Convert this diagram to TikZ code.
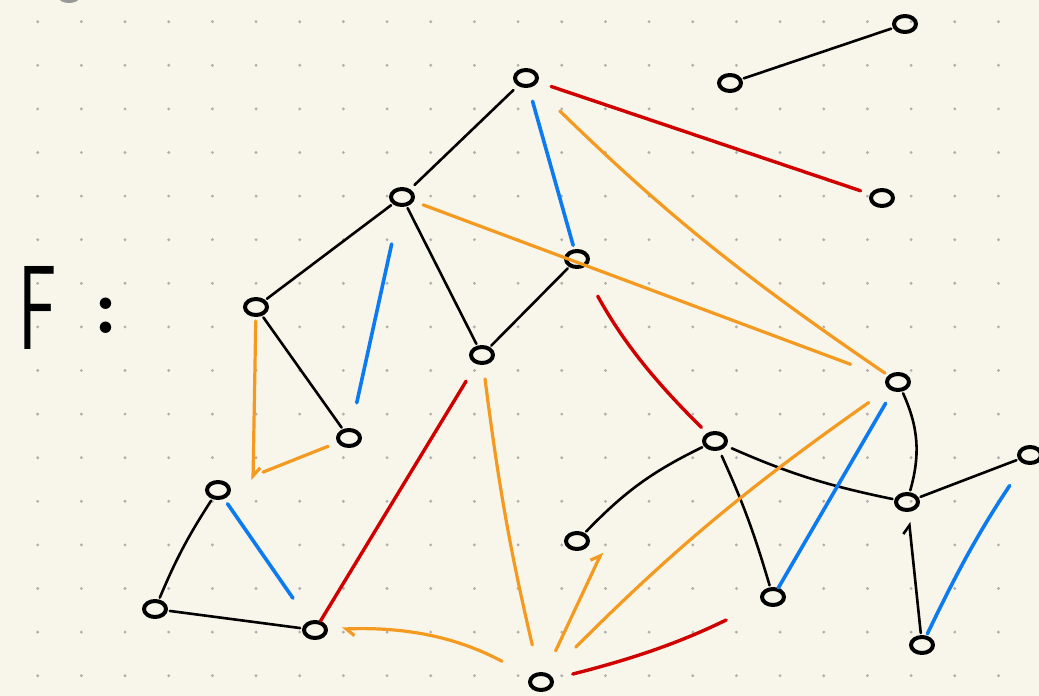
\documentclass[tikz,border=0pt]{standalone}
\usetikzlibrary{shapes.geometric, arrows.meta}
\definecolor{paper}{RGB}{248,246,234}
\definecolor{dotgray}{RGB}{175,175,175}
\definecolor{penblue}{RGB}{12,122,240}
\definecolor{penorange}{RGB}{244,154,32}
\definecolor{penred}{RGB}{208,0,0}
\begin{document}
\begin{tikzpicture}[x=0.5pt, y=-0.5pt, line cap=round, line join=round,
  vtx/.style={draw, ellipse, line width=2pt, minimum width=11pt, minimum height=8pt, inner sep=0pt},
  blk/.style={line width=1.3pt, shorten <=1pt, shorten >=1pt},
  blu/.style={penblue, line width=1.8pt},
  ora/.style={penorange, line width=1.6pt},
  rd/.style={penred, line width=1.7pt},
  penhook/.style={-{Straight Barb[left, length=4pt, width=7pt]}}]
\fill[paper] (0,0) rectangle (1039,696);
\useasboundingbox (0,0) rectangle (1039,696);
% dot grid
\foreach \i in {0,...,22}
  \foreach \j in {0,...,15}
    \fill[dotgray] ({37.7+43.67*\i},{21.7+43.6*\j}) circle[radius=0.8pt];
\fill[gray!80] (69,-2) ellipse[x radius=5pt, y radius=2.5pt];
% label
\node[font=\fontsize{60}{60}\selectfont\sffamily] (flabel) at (38,308) {\scalebox{0.6}[1]{F}};
\node[font=\fontsize{40}{40}\selectfont\bfseries] (fcolon) at (106,316) {:};
% vertices
\node[vtx] (a) at (526,78) {};
\node[vtx] (b) at (730,83) {};
\node[vtx] (c) at (905,24) {};
\node[vtx] (d) at (882,198) {};
\node[vtx] (e) at (402,197) {};
\node[vtx] (f) at (577,259) {};
\node[vtx] (g) at (256,307) {};
\node[vtx] (h) at (482,355) {};
\node[vtx] (i) at (349,438) {};
\node[vtx] (j) at (898,382) {};
\node[vtx] (k) at (218,490) {};
\node[vtx] (l) at (715,441) {};
\node[vtx] (m) at (907,502) {};
\node[vtx] (n) at (1030,455) {};
\node[vtx] (o) at (577,541) {};
\node[vtx] (p) at (155,609) {};
\node[vtx] (q) at (315,630) {};
\node[vtx] (r) at (773,597) {};
\node[vtx] (s) at (922,645) {};
\node[vtx] (t) at (541,682) {};
\coordinate (gkend) at (253,480);
\coordinate (toend) at (602,552);
% black edges
\draw[blk, shorten <=3pt, shorten >=3pt] (a) -- (e);
\draw[blk] (e) -- (g);
\draw[blk] (e) -- (h);
\draw[blk] (f) -- (h);
\draw[blk] (g) -- (i);
\draw[blk] (k) to[bend right=5] (p);
\draw[blk] (p) -- (q);
\draw[blk] (b) -- (c);
\draw[blk] (l) to[bend right=10] (o);
\draw[blk, shorten <=3pt] (l) to[bend left=4] (r);
\draw[blk, shorten <=3pt] (l) to[bend right=6] (m);
\draw[blk] (j) to[bend left=20] (m);
\draw[blk] (m) -- (n);
\draw[blk, penhook, shorten >=5pt] (s) -- (m);
% blue edges
\draw[blu, shorten <=7pt, shorten >=2pt] (a) -- (f);
\draw[blu, shorten <=19pt, shorten >=13pt] (e) -- (i);
\draw[blu, shorten <=3pt, shorten >=14pt] (k) -- (q);
\draw[blu, shorten <=7pt] (j) -- (r);
\draw[blu, shorten <=1pt, shorten >=13pt] (s) to[bend left=4] (n);
% orange edges
\draw[ora, shorten <=5pt, shorten >=19pt] (e) -- (j);
\draw[ora, shorten <=18pt, shorten >=2pt] (a) to[bend right=5] (j);
\draw[ora, penhook, shorten <=2pt] (g) -- (gkend);
\draw[ora, shorten <=5pt, shorten >=18pt] (i) -- (k);
\draw[ora, shorten <=7pt, shorten >=14pt] (h) to[bend right=3] (t);
\draw[ora, penhook, shorten <=16pt, shorten >=7pt] (t) to[bend right=15] (q);
\draw[ora, penhook, shorten <=12pt] (t) -- (toend);
\draw[ora, shorten <=19pt, shorten >=12pt] (t) to[bend left=5] (j);
% red edges
\draw[rd, shorten <=7pt, shorten >=5pt] (a) -- (d);
\draw[rd, shorten <=16pt, shorten >=4pt] (f) to[bend right=8] (l);
\draw[rd, shorten <=10pt] (h) -- (q);
\draw[rd, shorten <=10pt, shorten >=20pt] (t) to[bend right=6] (r);
\end{tikzpicture}
\end{document}
